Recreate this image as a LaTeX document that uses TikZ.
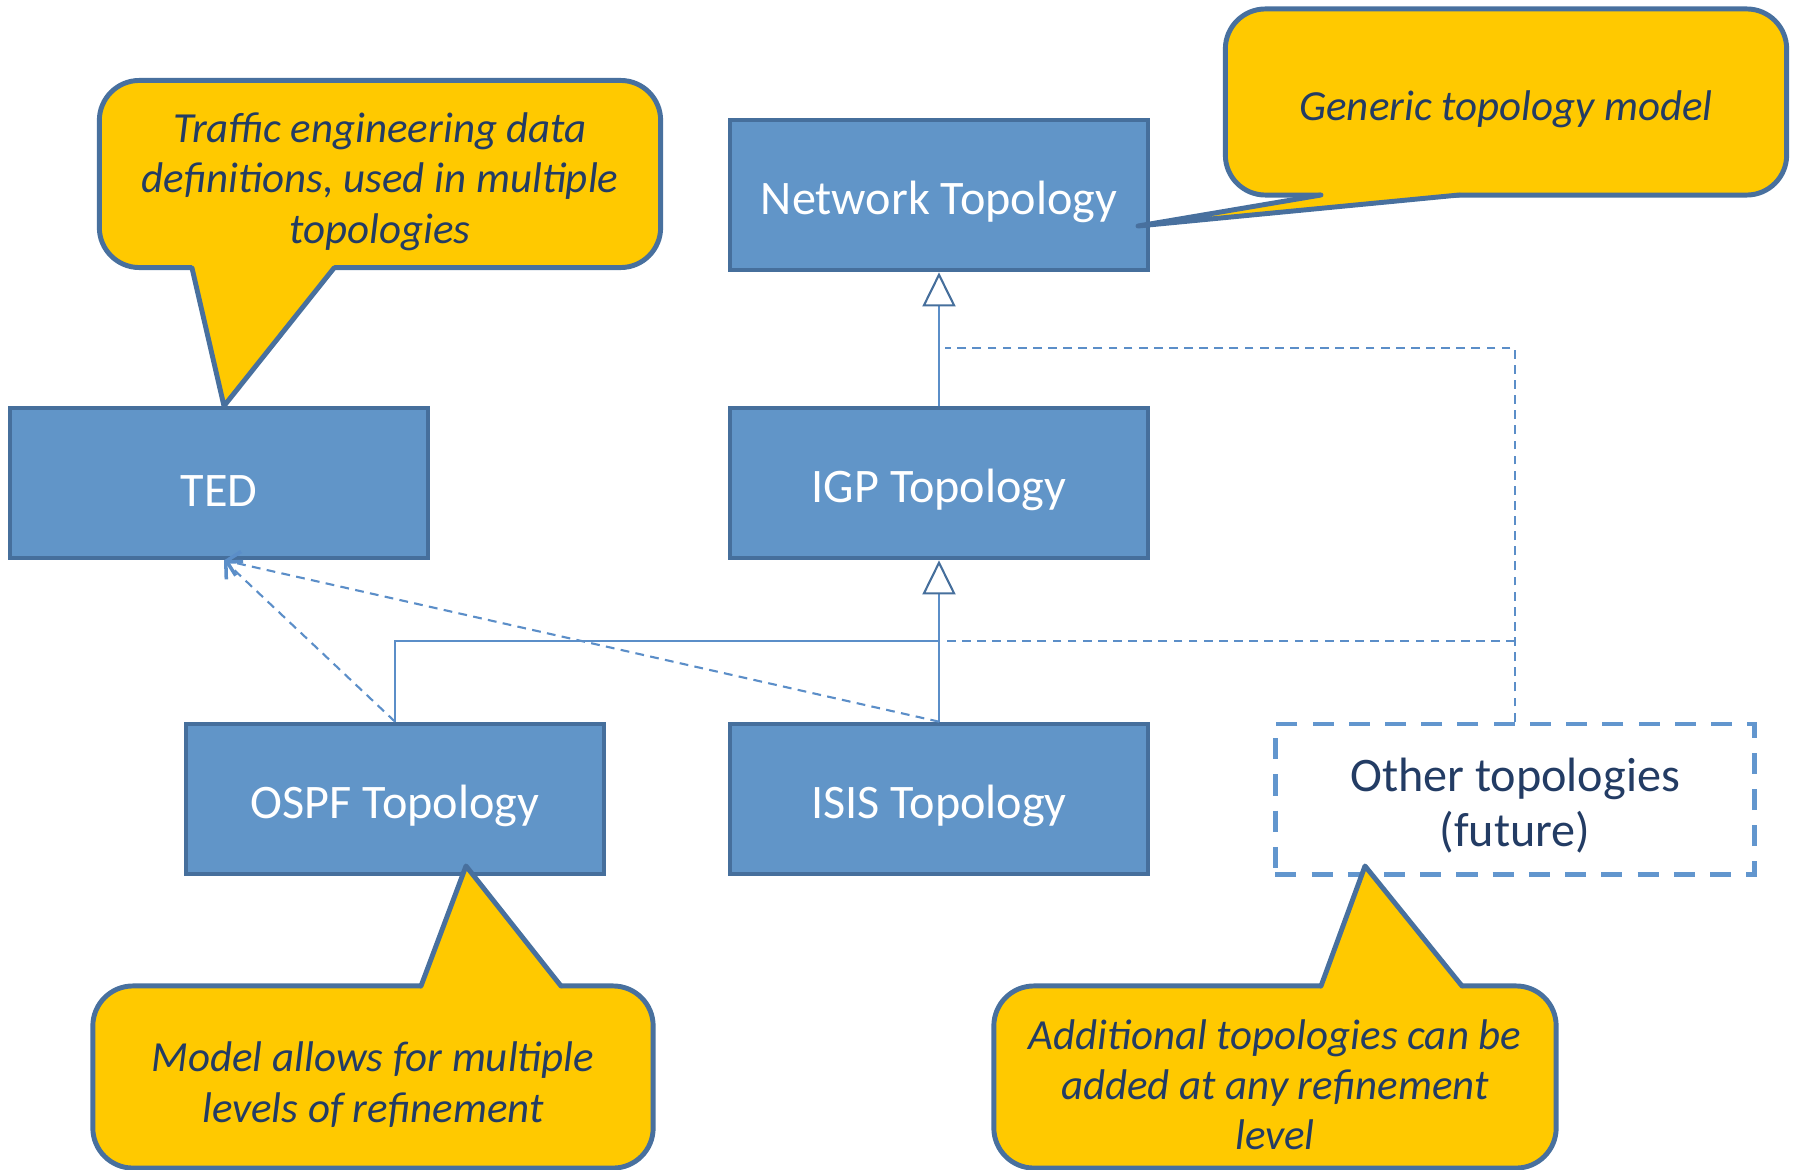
\documentclass[tikz,border=0pt]{standalone}
\usepackage{fontspec}
\setmainfont{Carlito}
\usetikzlibrary{arrows.meta,calc}
\definecolor{boxfill}{RGB}{97,149,200}
\definecolor{boxline}{RGB}{70,111,156}
\definecolor{notefill}{RGB}{255,201,0}
\definecolor{noteline}{RGB}{72,112,158}
\definecolor{notetext}{RGB}{35,60,100}
\definecolor{linkcol}{RGB}{91,142,200}
\definecolor{ghostline}{RGB}{98,150,206}
\newcommand\lift[1]{\rule{0pt}{#1}}

\begin{document}
\begin{tikzpicture}[x=0.01cm,y=-0.01cm,
	block/.style={draw=boxline, fill=boxfill, line width=1.3pt, minimum width=4.18cm, minimum height=1.5cm, text=white, font=\fontsize{13.7}{15.6}\selectfont, align=center, execute at begin node={\lift{13.4pt}}},
	ghost/.style={draw=ghostline, dash pattern=on 6pt off 4.3pt, line width=1.4pt, minimum width=4.79cm, minimum height=1.5cm, text=notetext, font=\fontsize{13.7}{15.6}\selectfont, align=center},
	remark/.style={draw=noteline, fill=notefill, line width=1.4pt, rounded corners=0.4cm, text=notetext, font=\itshape\fontsize{12.2}{14.3}\selectfont, align=center, inner sep=0pt},
	flap/.style={fill=notefill},
	flapline/.style={draw=noteline, line width=1.4pt, line join=round, line cap=round},
	inherit/.style={draw=linkcol, line width=0.6pt},
	gen/.style={inherit, -{Triangle[open, width=9.4pt, length=9.7pt, fill=white, color=boxline]}},
	uses/.style={inherit, dash pattern=on 2.5pt off 1.8pt, -{Straight Barb[length=3.5pt, width=7pt, line width=1pt]}},
	future/.style={inherit, dash pattern=on 2.5pt off 1.8pt}]
	\useasboundingbox (0,0) rectangle (1794,1170);
	\node[block] (ted) at (219,483) {TED};
	\node[block] (net) at (939,195) {Network Topology};
	\node[block] (igp) at (939,483) {IGP Topology};
	\node[block] (ospf) at (395,799) {OSPF Topology};
	\node[block] (isis) at (939,799) {ISIS Topology};
	\node[ghost] (other) at (1515,799) {\lift{13.4pt}Other topologies\\(future)};
	\coordinate (j1) at (945,641);
	\coordinate (j2) at (945,348);
	\draw[gen] (igp) -- (net);
	\draw[gen] (isis) -- (igp);
	\draw[inherit] (ospf.north) |- (isis.north |- j1);
	\draw[future] (other.north) |- (j2);
	\draw[future] (other.north |- j1) -- (j1);
	\draw[uses] (ospf.north) -- ($(ted.south)+(5,0)$);
	\draw[uses] (isis.north) -- ($(ted.south)+(5,0)$);
	\node[remark, minimum width=5.61cm, minimum height=1.87cm] (tednote) at (380,174) {\lift{12.8pt}Traffic engineering data\\definitions, used in multiple\\topologies};
	\fill[flap] (192,264) -- (192,268) -- (224,406) -- (334,268) -- (334,264) -- cycle;
	\draw[flapline] (192,268) -- (224,406) -- (334,268);
	\node[remark, minimum width=5.61cm, minimum height=1.86cm] (netnote) at (1506,102) {\lift{12.8pt}Generic topology model};
	\fill[flap] (1321,191) -- (1321,195) -- (1138,226) -- (1459,195) -- (1459,191) -- cycle;
	\draw[flapline] (1321,195) -- (1138,226) -- (1459,195);
	\node[remark, minimum width=5.6cm, minimum height=1.82cm] (ospfnote) at (373,1077) {\lift{12.8pt}Model allows for multiple\\levels of refinement};
	\fill[flap] (421,990) -- (421,986) -- (466,866) -- (561,986) -- (561,990) -- cycle;
	\draw[flapline] (421,986) -- (466,866) -- (561,986);
	\node[remark, minimum width=5.62cm, minimum height=1.82cm] (othernote) at (1275,1077) {\lift{12.8pt}Additional topologies can be\\added at any refinement\\level};
	\fill[flap] (1321,990) -- (1321,986) -- (1365,866) -- (1462,986) -- (1462,990) -- cycle;
	\draw[flapline] (1321,986) -- (1365,866) -- (1462,986);
\end{tikzpicture}
\end{document}
